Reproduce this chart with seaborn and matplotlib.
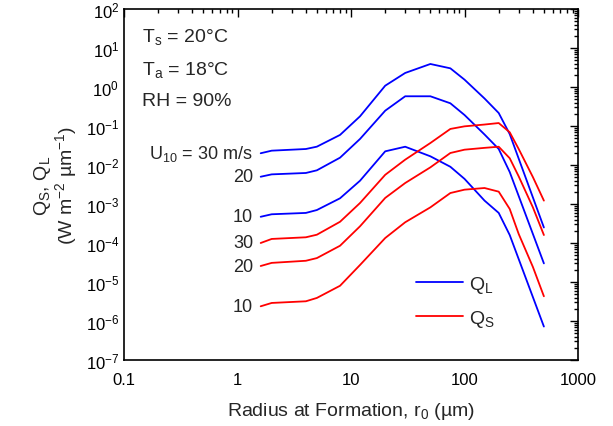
import numpy as np
import pandas as pd
import matplotlib
matplotlib.use("Agg")
import matplotlib.pyplot as plt
from matplotlib.lines import Line2D
import seaborn as sns

# radius at formation (um); Q_S curves have two extra points near the tail
r_QL = [1.6, 2, 4, 5, 8, 12, 20, 30, 50, 75, 100, 150, 200, 250, 500]
r_QS = [1.6, 2, 4, 5, 8, 12, 20, 30, 50, 75, 100, 150, 200, 250, 300, 400, 500]

# latent heat flux Q_L (W m^-2 um^-1)
QL_30 = [2.0e-2, 2.33e-2, 2.57e-2, 2.95e-2, 5.9e-2, 0.177, 1.08, 2.29, 3.89, 3.01,
         1.54, 0.507, 0.215, 6.2e-2, 2.5e-4]
QL_20 = [5.0e-3, 5.75e-3, 6.24e-3, 7.3e-3, 1.54e-2, 4.65e-2, 0.247, 0.578, 0.578, 0.382,
         0.191, 6.05e-2, 2.57e-2, 6.6e-3, 3.0e-5]
QL_10 = [4.7e-4, 5.45e-4, 5.9e-4, 7.0e-4, 1.4e-3, 3.95e-3, 2.24e-2, 2.94e-2, 1.67e-2, 9.0e-3,
         4.4e-3, 1.22e-3, 5.9e-4, 1.6e-4, 7.2e-7]

# sensible heat flux Q_S
QS_30 = [1.0e-4, 1.27e-4, 1.4e-4, 1.63e-4, 3.5e-4, 1.06e-3, 5.6e-3, 1.37e-2, 3.66e-2, 8.4e-2,
         9.8e-2, 0.109, 0.119, 6.9e-2, 2.57e-2, 4.9e-3, 1.22e-3]
QS_20 = [2.57e-5, 3.09e-5, 3.5e-5, 4.1e-5, 8.5e-5, 2.68e-4, 1.43e-3, 3.45e-3, 8.7e-3, 2.03e-2,
         2.47e-2, 2.75e-2, 2.94e-2, 1.49e-2, 5.1e-3, 8.2e-4, 1.6e-4]
QS_10 = [2.38e-6, 2.9e-6, 3.2e-6, 3.9e-6, 8.0e-6, 2.73e-5, 1.34e-4, 3.4e-4, 8.2e-4, 1.91e-3,
         2.33e-3, 2.57e-3, 2.07e-3, 7.45e-4, 1.7e-4, 2.43e-5, 4.3e-6]

wind = [30, 20, 10]

# long-form table for seaborn
rows = []
for u, ys in zip(wind, [QL_30, QL_20, QL_10]):
    rows += [{"r": x, "Q": y, "kind": "QL", "U10": u} for x, y in zip(r_QL, ys)]
for u, ys in zip(wind, [QS_30, QS_20, QS_10]):
    rows += [{"r": x, "Q": y, "kind": "QS", "U10": u} for x, y in zip(r_QS, ys)]
df = pd.DataFrame(rows)

sns.set_style("white")
plt.rcParams['font.family'] = ['Liberation Sans', 'DejaVu Sans']
plt.rcParams['mathtext.fontset'] = 'custom'
plt.rcParams['mathtext.rm'] = 'Liberation Sans'
plt.rcParams['mathtext.it'] = 'Liberation Sans'
plt.rcParams['mathtext.default'] = 'regular'

fig, ax = plt.subplots(figsize=(6.13, 4.27), dpi=100)
fig.subplots_adjust(left=0.2023, right=0.943, top=0.9766, bottom=0.1546)

colors = {"QL": "#0000ff", "QS": "#ff0000"}
sns.lineplot(data=df, x="r", y="Q", hue="kind", units="U10", estimator=None,
             palette=colors, linewidth=1.3, legend=False, ax=ax, sort=False)

ax.set_xscale("log")
ax.set_yscale("log")
ax.set_xlim(0.1, 1000)
ax.set_ylim(1e-7, 1e2)
ax.set_xticks([0.1, 1, 10, 100, 1000])
ax.set_xticklabels(["0.1", "1", "10", "100", "1000"])
ax.yaxis.set_major_locator(matplotlib.ticker.LogLocator(base=10, numticks=15))
ax.yaxis.set_minor_locator(matplotlib.ticker.LogLocator(base=10, subs=np.arange(2, 10), numticks=15))
ax.xaxis.set_minor_locator(matplotlib.ticker.LogLocator(base=10, subs=np.arange(2, 10), numticks=15))
ax.yaxis.set_minor_formatter(matplotlib.ticker.NullFormatter())
ax.xaxis.set_minor_formatter(matplotlib.ticker.NullFormatter())

ax.tick_params(which="both", direction="in", top=True, right=True, colors="black",
               labelsize=12, width=1.0)
ax.tick_params(which="major", length=6)
ax.tick_params(which="minor", length=3)
ax.tick_params(axis="x", which="major", pad=9)
for s in ax.spines.values():
    s.set_color("black")
    s.set_linewidth(1.2)

ax.set_xlabel("Radius at Formation, r$_0$ (µm)", fontsize=14, labelpad=9)
ax.set_ylabel("Q$_S$, Q$_L$\n(W m$^{-2}$ µm$^{-1}$)", fontsize=14, labelpad=5,
              linespacing=1.0)

# condition text
ax.text(0.04, 0.924, "T$_s$ = 20°C", transform=ax.transAxes, fontsize=14, va="center")
ax.text(0.04, 0.829, "T$_a$ = 18°C", transform=ax.transAxes, fontsize=14, va="center")
ax.text(0.04, 0.738, "RH = 90%", transform=ax.transAxes, fontsize=14, va="center")

# wind speed labels at the start of each curve
labels = ["U$_{10}$ = 30 m/s", "20", "10", "30", "20", "10"]
starts = [QL_30[0], QL_20[0], QL_10[0], QS_30[0], QS_20[0], QS_10[0]]
for lab, y0 in zip(labels, starts):
    ax.annotate(lab, xy=(r_QL[0], y0), xytext=(-5.5, 0), textcoords="offset points",
                ha="right", va="center", fontsize=13)

handles = [Line2D([], [], color=colors["QL"], linewidth=1.3, label="Q$_L$"),
           Line2D([], [], color=colors["QS"], linewidth=1.3, label="Q$_S$")]
ax.legend(handles=handles, loc="upper left", bbox_to_anchor=(0.605, 0.295), frameon=False,
          fontsize=14, handlelength=2.4, handletextpad=0.3, labelspacing=0.65)

fig.savefig("out.png", dpi=100)
